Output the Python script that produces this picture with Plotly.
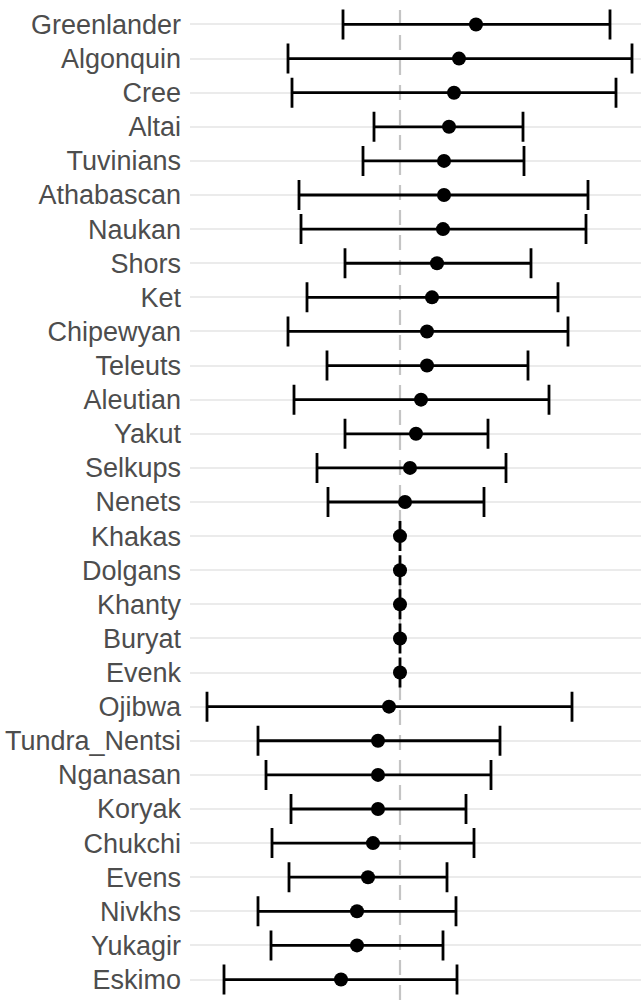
import plotly.graph_objects as go

# Populations, top to bottom
populations = [
    "Greenlander", "Algonquin", "Cree", "Altai", "Tuvinians", "Athabascan",
    "Naukan", "Shors", "Ket", "Chipewyan", "Teleuts", "Aleutian", "Yakut",
    "Selkups", "Nenets", "Khakas", "Dolgans", "Khanty", "Buryat", "Evenk",
    "Ojibwa", "Tundra_Nentsi", "Nganasan", "Koryak", "Chukchi", "Evens",
    "Nivkhs", "Yukagir", "Eskimo",
]

# Point estimates with lower / upper interval bounds
estimate = [
    0.076, 0.059, 0.054, 0.049, 0.044, 0.044,
    0.043, 0.037, 0.032, 0.027, 0.027, 0.021, 0.016,
    0.010, 0.005, 0.000, 0.000, 0.000, 0.000, 0.000,
    -0.011, -0.022, -0.022, -0.022, -0.027, -0.032,
    -0.043, -0.043, -0.059,
]
lower = [
    -0.057, -0.112, -0.108, -0.026, -0.037, -0.101,
    -0.099, -0.055, -0.093, -0.112, -0.073, -0.106, -0.055,
    -0.083, -0.072, 0.000, 0.000, 0.000, 0.000, 0.000,
    -0.193, -0.142, -0.134, -0.109, -0.128, -0.111,
    -0.142, -0.129, -0.176,
]
upper = [
    0.210, 0.232, 0.216, 0.123, 0.124, 0.188,
    0.186, 0.131, 0.158, 0.168, 0.128, 0.149, 0.088,
    0.106, 0.084, 0.000, 0.000, 0.000, 0.000, 0.000,
    0.172, 0.100, 0.091, 0.066, 0.074, 0.047,
    0.056, 0.043, 0.057,
]

err_plus = [u - e for u, e in zip(upper, estimate)]
err_minus = [e - l for e, l in zip(estimate, lower)]

fig = go.Figure()

fig.add_trace(go.Scatter(
    x=estimate,
    y=populations,
    mode="markers",
    marker=dict(color="black", size=14),
    error_x=dict(
        type="data",
        symmetric=False,
        array=err_plus,
        arrayminus=err_minus,
        color="black",
        thickness=2.8,
        width=15,
    ),
    showlegend=False,
))

# Reference line at zero
fig.add_shape(
    type="line", xref="x", yref="paper",
    x0=0, x1=0, y0=0, y1=1,
    line=dict(color="#c4c4c4", width=2.2, dash="15px,10px"),
    layer="below",
)

fig.update_layout(
    width=641, height=1000,
    margin=dict(l=190, r=0, t=4, b=0),
    paper_bgcolor="white",
    plot_bgcolor="white",
    font=dict(family="Liberation Sans, Arial, sans-serif"),
)

fig.update_xaxes(
    range=[-0.210, 0.241],
    showgrid=False, zeroline=False, showticklabels=False, ticks="",
    showline=False,
)

fig.update_yaxes(
    type="category",
    categoryorder="array",
    categoryarray=populations,
    range=[len(populations) - 0.4, -0.6],
    showgrid=True, gridcolor="#ebebeb", gridwidth=1.8,
    zeroline=False, showline=False,
    ticks="", ticklabelstandoff=8,
    tickfont=dict(size=27, color="#4d4d4d"),
)

fig.write_html("out.html")
